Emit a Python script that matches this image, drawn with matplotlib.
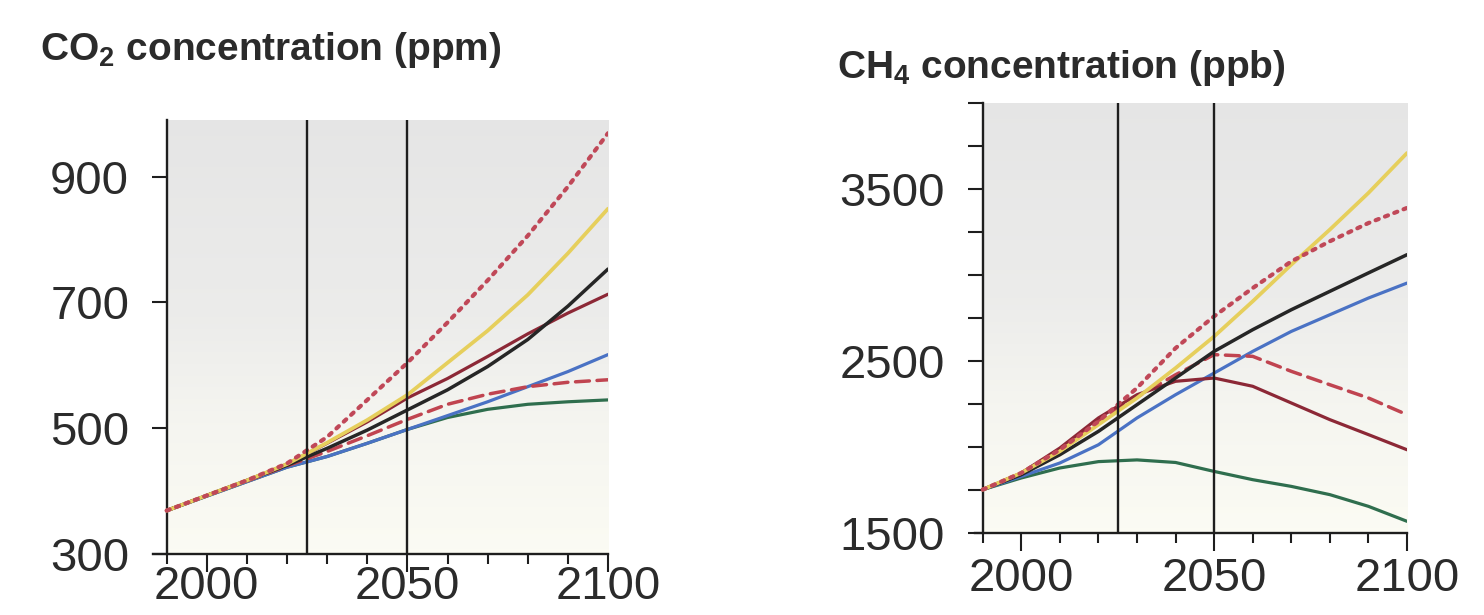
import numpy as np
import matplotlib
matplotlib.use("Agg")
import matplotlib.pyplot as plt
import matplotlib.ticker as ticker

plt.rcParams['font.family'] = ['Liberation Sans', 'DejaVu Sans']
plt.rcParams['mathtext.fontset'] = 'custom'
plt.rcParams['mathtext.rm'] = 'Liberation Sans'
plt.rcParams['mathtext.bf'] = 'Liberation Sans:bold'

years = [1990, 2000, 2010, 2020, 2030, 2040, 2050, 2060, 2070, 2080, 2090, 2100]

# CO2 (ppm)
co2_dotted = [369, 393, 417, 444, 486, 545, 604, 668, 735, 806, 884, 969]
co2_yellow = [369, 393, 417, 443, 477, 513, 553, 604, 655, 712, 778, 849]
co2_black = [369, 393, 417, 441, 468, 497, 529, 561, 598, 641, 694, 753]
co2_red = [369, 393, 417, 443, 476, 510, 548, 579, 614, 650, 683, 713]
co2_blue = [369, 392, 415, 438, 455, 476, 498, 520, 542, 566, 590, 617]
co2_dashed = [369, 393, 416, 440, 463, 488, 514, 538, 554, 566, 573, 577]
co2_green = [369, 392, 415, 438, 455, 476, 498, 517, 530, 538, 542, 545]

# CH4 (ppb)
ch4_dotted = [1752, 1849, 1984, 2149, 2343, 2575, 2760, 2924, 3079, 3196, 3302, 3390]
ch4_yellow = [1752, 1849, 1975, 2130, 2285, 2459, 2643, 2847, 3060, 3264, 3477, 3709]
ch4_black = [1752, 1839, 1955, 2091, 2246, 2401, 2556, 2682, 2798, 2905, 3012, 3118]
ch4_red = [1752, 1849, 1994, 2169, 2304, 2382, 2401, 2353, 2256, 2159, 2072, 1984]
ch4_blue = [1752, 1829, 1907, 2013, 2169, 2304, 2430, 2556, 2672, 2769, 2866, 2953]
ch4_dashed = [1752, 1849, 1984, 2149, 2290, 2420, 2537, 2527, 2440, 2362, 2285, 2188]
ch4_green = [1752, 1820, 1878, 1915, 1925, 1910, 1858, 1810, 1771, 1723, 1655, 1568]

year_marks = [2025, 2050]

C_DOT = '#c04858'
C_YEL = '#e6cf5c'
C_BLK = '#262626'
C_RED = '#8c2836'
C_BLU = '#4a72c4'
C_DSH = '#c04450'
C_GRN = '#2f6e4e'
TXT = '#2b2b2b'

fig = plt.figure(figsize=(14.84, 6.15), dpi=100)


def gradient(ax, ylo, yhi):
    h = np.linspace(0, 1, 200)
    top = np.array([0.9, 0.9, 0.9])
    mid = np.array([0.925, 0.925, 0.92])
    bot = np.array([0.985, 0.985, 0.955])
    rgb = np.zeros((200, 1, 3))
    for i, t in enumerate(h):
        if t < 0.3:
            c = bot + (mid - bot) * (t / 0.3) * 0.4
        elif t < 0.55:
            c = bot + (mid - bot) * (0.4 + 0.6 * (t - 0.3) / 0.25)
        else:
            c = mid + (top - mid) * (t - 0.55) / 0.45
        rgb[i, 0] = c
    ax.imshow(rgb, origin='lower', aspect='auto',
              extent=(1990, 2100, ylo, yhi), zorder=0)


def draw(ax, series, ylo, yhi, xstart):
    gradient(ax, ylo, yhi)
    for vals, col, ls, lw in series:
        ax.plot(years, vals, color=col, linestyle=ls, lw=lw,
                solid_capstyle='round', dash_capstyle='round', zorder=3)
    for yr in year_marks:
        ax.axvline(yr, color='#1e1e1e', lw=1.7, zorder=4)
    ax.set_xlim(xstart, 2100)
    ax.set_ylim(ylo, yhi)
    for s in ['top', 'right']:
        ax.spines[s].set_visible(False)
    ax.spines['left'].set_position(('data', 1990))
    ax.spines['left'].set_linewidth(1.7)
    ax.spines['bottom'].set_linewidth(1.7)
    ax.spines['left'].set_color('#1e1e1e')
    ax.spines['bottom'].set_color('#1e1e1e')
    ax.xaxis.set_major_locator(ticker.FixedLocator([2000, 2050, 2100]))
    ax.xaxis.set_minor_locator(ticker.MultipleLocator(10))
    ax.tick_params(axis='x', which='major', length=13, width=1.5,
                   labelsize=34, labelcolor=TXT, color='#1e1e1e')
    ax.tick_params(axis='x', which='minor', length=7, width=1.5,
                   color='#1e1e1e')
    ax.tick_params(axis='y', which='both', length=11, width=1.5,
                   labelsize=34, labelcolor=TXT, color='#1e1e1e', pad=16)


series_co2 = [
    (co2_green, C_GRN, '-', 2.3),
    (co2_blue, C_BLU, '-', 2.3),
    (co2_dashed, C_DSH, (0, (4, 2.2)), 2.5),
    (co2_red, C_RED, '-', 2.3),
    (co2_black, C_BLK, '-', 2.5),
    (co2_yellow, C_YEL, '-', 2.7),
    (co2_dotted, C_DOT, (0, (0.8, 1.6)), 3.0),
]
series_ch4 = [
    (ch4_green, C_GRN, '-', 2.3),
    (ch4_blue, C_BLU, '-', 2.3),
    (ch4_dashed, C_DSH, (0, (4, 2.2)), 2.5),
    (ch4_red, C_RED, '-', 2.3),
    (ch4_black, C_BLK, '-', 2.5),
    (ch4_yellow, C_YEL, '-', 2.7),
    (ch4_dotted, C_DOT, (0, (0.8, 1.6)), 3.0),
]

ax1 = fig.add_axes([153 / 1484, 1 - 554 / 615, (608 - 153) / 1484, (554 - 120) / 615])
draw(ax1, series_co2, 300, 990, 1986.6)
ax1.yaxis.set_major_locator(ticker.FixedLocator([300, 500, 700, 900]))
ax1.tick_params(axis='x', which='major', pad=-5)

ax2 = fig.add_axes([975 / 1484, 1 - 533 / 615, (1407 - 975) / 1484, (533 - 103) / 615])
draw(ax2, series_ch4, 1500, 4000, 1988)
ax2.yaxis.set_major_locator(ticker.FixedLocator([1500, 2500, 3500]))
ax2.yaxis.set_minor_locator(ticker.MultipleLocator(250))
ax2.tick_params(axis='x', which='major', pad=4)

fig.text(40 / 1484, 1 - 50 / 615, r'CO$_{\mathbf{2}}$ concentration (ppm)',
         fontsize=28, fontweight='bold', color=TXT, va='center', ha='left')
fig.text(837 / 1484, 1 - 68 / 615, r'CH$_{\mathbf{4}}$ concentration (ppb)',
         fontsize=28, fontweight='bold', color=TXT, va='center', ha='left')

fig.savefig('out.png', dpi=100, facecolor='white')
